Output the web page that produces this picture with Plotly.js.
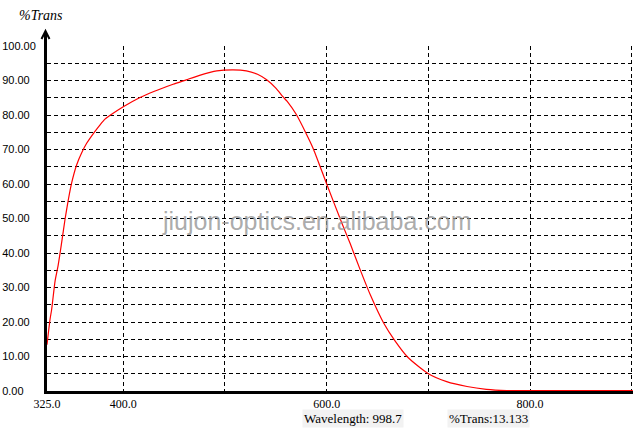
<!DOCTYPE html>
<html>
<head>
<meta charset="utf-8">
<script src="https://cdn.plot.ly/plotly-3.0.1.min.js"></script>
<style>html,body{margin:0;padding:0;background:#fff;}#chart{width:633px;height:446px;}</style>
</head>
<body>
<div id="chart"></div>
<script>
// Spectrum data: wavelength (nm) and %Trans
const wavelength = [325, 328, 329.6, 333, 336, 339.4, 342.7, 346, 349.3, 354.2, 359, 364, 372, 377, 382, 390, 400, 416, 430, 449, 462, 475, 492, 508, 521, 532, 541, 550, 557, 561, 570, 580, 587, 600, 615, 623, 633, 643, 656, 667, 680, 700, 718, 738, 757, 777, 800, 850, 901];
const transmission = [13.4, 20.8, 23.7, 32.0, 36.5, 43.0, 49.7, 55.5, 60.4, 65.6, 69.0, 71.8, 75.2, 77.1, 78.8, 80.5, 82.4, 85.0, 86.8, 88.9, 90.2, 91.5, 92.8, 93.1, 92.8, 91.8, 90.2, 87.8, 85.3, 84.0, 80.2, 74.5, 70.1, 60.0, 48.6, 42.8, 35.1, 27.8, 19.7, 14.6, 9.7, 5.0, 2.7, 1.3, 0.5, 0.15, 0.1, 0.1, 0.1];

// Axis ticks
const xTickVals = [325, 400, 600, 800];
const xTickText = ['325.0', '400.0', '600.0', '800.0'];
const xGridVals = [400, 500, 600, 700, 800, 900];
const yTickVals = [0, 10, 20, 30, 40, 50, 60, 70, 80, 90, 100];
const yTickText = ['0.00', '10.00', '20.00', '30.00', '40.00', '50.00', '60.00', '70.00', '80.00', '90.00', '100.00'];
const yGridVals = [5, 10, 15, 20, 25, 30, 35, 40, 45, 50, 55, 60, 65, 70, 75, 80, 85, 90, 95];

// pad labels with figure spaces so they line up on the left like the original
const FS = '\u2007';
const yTickPadded = yTickText.map(t => t + FS.repeat(6 - t.length));

const xRange = [325, 901.2];
const yRange = [0, 100];

const traces = [
  { x: [], y: [], xaxis: 'x', yaxis: 'y', type: 'scatter', mode: 'lines', showlegend: false, hoverinfo: 'skip' },
  { x: wavelength, y: transmission, xaxis: 'x2', yaxis: 'y2', type: 'scatter', mode: 'lines',
    line: { color: '#ff0000', width: 1.2, shape: 'spline', smoothing: 0.6 }, showlegend: false }
];

const gridDash = '4px,3px';

// Arrow on top of the y axis (paper coordinates; plot area is 586 x 345 px)
const PX = 1 / 586, PY = 1 / 345;
const ax0 = -1.5 * PX;        // centre of the 3px axis line
const tipY = 1 + 15 * PY;     // tip 15px above the plot top
const armY = 1 + 7 * PY;

const layout = {
  width: 633, height: 446,
  margin: { l: 47, r: 0, t: 46, b: 55 },
  paper_bgcolor: '#ffffff', plot_bgcolor: '#ffffff',
  showlegend: false,
  xaxis: {
    range: xRange, tickmode: 'array', tickvals: xTickVals, ticktext: xTickText,
    showgrid: false, zeroline: false, showline: true, linewidth: 3, linecolor: '#000',
    ticks: '', ticklabelstandoff: 0,
    tickfont: { family: 'Liberation Serif', size: 12, color: '#000' },
    layer: 'below traces', fixedrange: true
  },
  xaxis2: {
    overlaying: 'x', range: xRange, tickmode: 'array', tickvals: xGridVals,
    showgrid: true, gridcolor: '#000', gridwidth: 1, griddash: gridDash,
    showticklabels: false, ticks: '', showline: false, zeroline: false
  },
  yaxis: {
    range: yRange, tickmode: 'array', tickvals: yTickVals, ticktext: yTickPadded,
    showgrid: false, zeroline: false, showline: true, linewidth: 3, linecolor: '#000',
    ticks: '', ticklabelstandoff: 6,
    tickfont: { family: 'Liberation Sans', size: 11, color: '#000' },
    layer: 'below traces', fixedrange: true
  },
  yaxis2: {
    overlaying: 'y', range: yRange, tickmode: 'array', tickvals: yGridVals,
    showgrid: true, gridcolor: '#000', gridwidth: 1, griddash: gridDash,
    showticklabels: false, ticks: '', showline: false, zeroline: false
  },
  shapes: [
    { type: 'line', xref: 'paper', yref: 'paper', x0: ax0, x1: ax0, y0: 1, y1: tipY - 1 * PY,
      line: { color: '#000', width: 3 } },
    { type: 'path', xref: 'paper', yref: 'paper',
      path: 'M ' + (ax0 - 4 * PX) + ' ' + armY + ' L ' + ax0 + ' ' + tipY + ' L ' + (ax0 + 4 * PX) + ' ' + armY,
      line: { color: '#000', width: 2 } }
  ],
  annotations: [
    { text: '%Trans', xref: 'paper', yref: 'paper', x: -0.0102, y: 1.087, xanchor: 'center', yanchor: 'middle',
      showarrow: false, font: { family: 'Liberation Serif', size: 14, color: '#000', style: 'italic' } },
    { text: 'jiujon-optics.en.alibaba.com', xref: 'paper', yref: 'paper', x: 0.4616, y: 0.4928,
      xanchor: 'center', yanchor: 'middle',
      showarrow: false, font: { family: 'Liberation Sans', size: 25, color: 'rgba(150,150,150,0.8)' } },
    { text: 'Wavelength: 998.7', xref: 'paper', yref: 'paper', x: 0.522, y: -0.0783,
      xanchor: 'center', yanchor: 'middle', showarrow: false,
      bgcolor: '#f2f2f2', borderpad: 1,
      font: { family: 'Liberation Serif', size: 13, color: '#000' } },
    { text: '%Trans:13.133', xref: 'paper', yref: 'paper', x: 0.7526, y: -0.0783,
      xanchor: 'center', yanchor: 'middle', showarrow: false,
      bgcolor: '#f2f2f2', borderpad: 1,
      font: { family: 'Liberation Serif', size: 13, color: '#000' } }
  ]
};

Plotly.newPlot('chart', traces, layout, { staticPlot: true, displayModeBar: false });
</script>
</body>
</html>
